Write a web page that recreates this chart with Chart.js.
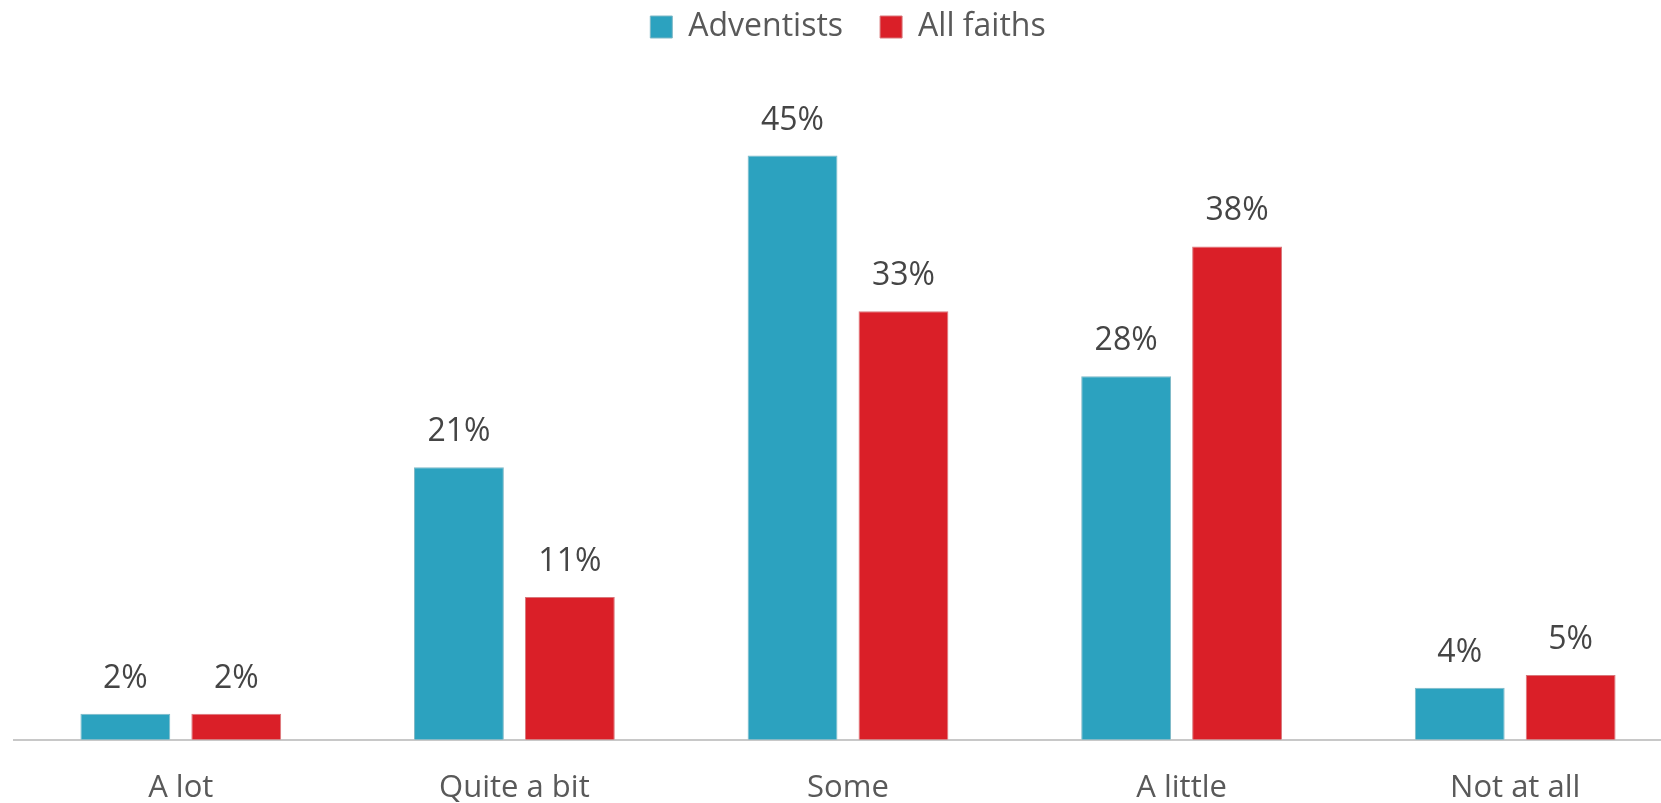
<!DOCTYPE html>
<html>
<head>
<meta charset="utf-8">
<script src="https://cdn.jsdelivr.net/npm/chart.js@4"></script>
<style>
  html, body { margin: 0; padding: 0; background: #fff; overflow: hidden; }
  #wrap { position: relative; width: 1706px; height: 829px; }
</style>
</head>
<body>
<div id="wrap"><canvas id="chart"></canvas></div>
<script>
// data
const categories = ["A lot", "Quite a bit", "Some", "A little", "Not at all"];
const adventists = [2, 21, 45, 28, 4];
const allFaiths = [2, 11, 33, 38, 5];
const seriesNames = ["Adventists", "All faiths"];

const FONT = "'Open Sans', 'Noto Sans', sans-serif";

// value labels above each bar
const barLabels = {
  id: "barLabels",
  afterDatasetsDraw(chart) {
    const c = chart.ctx;
    c.save();
    c.font = "32px " + FONT;
    c.fillStyle = "#454545";
    c.textAlign = "center";
    c.textBaseline = "alphabetic";
    chart.data.datasets.forEach((ds, i) => {
      chart.getDatasetMeta(i).data.forEach((bar, j) => {
        c.fillText(ds.data[j] + "%", bar.x, bar.y - 26);
      });
    });
    c.restore();
  }
};

new Chart(document.getElementById("chart"), {
  type: "bar",
  data: {
    labels: categories,
    datasets: [
      { label: seriesNames[0], data: adventists, backgroundColor: "#2ca2bf", borderColor: "#7fb8c6", borderWidth: 1 },
      { label: seriesNames[1], data: allFaiths, backgroundColor: "#da1f28", borderColor: "#d9777b", borderWidth: 1 }
    ]
  },
  options: {
    responsive: true,
    maintainAspectRatio: false,
    animation: false,
    layout: { padding: { left: 14, right: 24, top: -26, bottom: 0 } },
    datasets: { bar: { categoryPercentage: 0.665, barPercentage: 0.81 } },
    plugins: {
      legend: {
        position: "top",
        labels: {
          boxWidth: 22,
          boxHeight: 22,
          padding: 37,
          color: "#595959",
          font: { size: 32, family: FONT }
        }
      },
      tooltip: { enabled: false }
    },
    scales: {
      x: {
        grid: { display: false },
        border: { display: true, color: "#c8c8c8", width: 2 },
        ticks: { color: "#595959", font: { size: 31, family: FONT }, padding: 22 }
      },
      y: {
        display: false,
        min: 0,
        max: 52.9
      }
    }
  },
  plugins: [barLabels]
});
</script>
</body>
</html>
